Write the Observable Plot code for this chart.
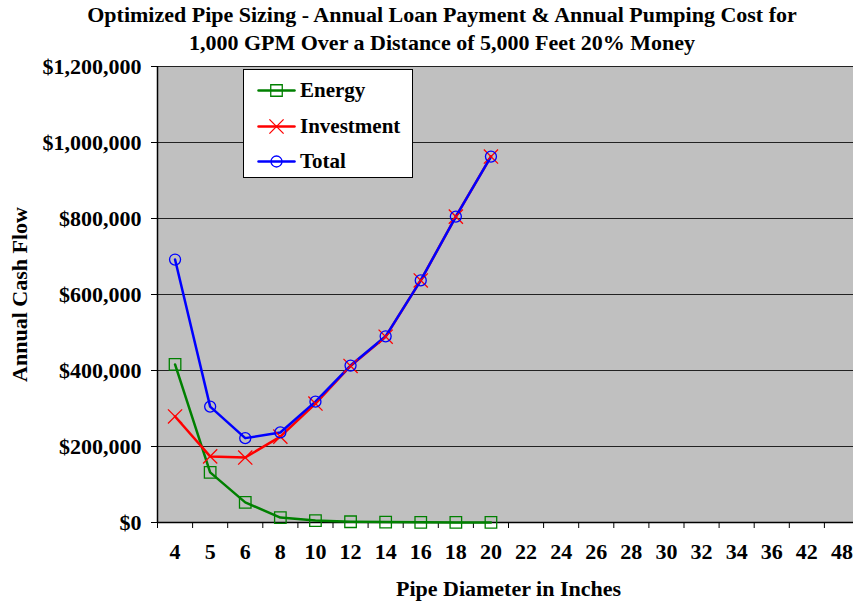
<!DOCTYPE html>
<html><head><meta charset="utf-8">
<script src="https://cdn.jsdelivr.net/npm/d3@7"></script>
<script src="https://cdn.jsdelivr.net/npm/@observablehq/plot@0.6"></script>
<style>
html,body{margin:0;background:#fff;overflow:hidden;}
#wrap{position:relative;width:853px;height:606px;overflow:hidden;font-family:"Liberation Serif","Times New Roman",serif;font-weight:bold;color:#000;}
#chart svg{max-width:none !important;}
#title{position:absolute;left:0;top:1px;width:884px;text-align:center;font-size:22px;line-height:28px;}
#legend{position:absolute;left:243px;top:69px;width:168px;height:107px;border:1.5px solid #000;background:#fff;font-size:21px;}
#legend .row{position:absolute;left:14px;height:24px;display:flex;align-items:center;}
#legend .row span{margin-left:6px;}
</style></head>
<body>
<div id="wrap">
<div id="chart"></div>
<div id="title">Optimized Pipe Sizing - Annual Loan Payment &amp; Annual Pumping Cost for<br>1,000 GPM Over a Distance of 5,000 Feet 20% Money</div>
<div id="legend"></div>
</div>
<script>
const diameters = [4,5,6,8,10,12,14,16,18,20,22,24,26,28,30,32,34,36,42,48];
const energy = [416000,132000,53000,13000,5000,2000,1000,500,300,200];
const investment = [279000,174000,171000,226000,313000,412000,489000,637000,805000,963000];
const total = [692000,305000,222000,237000,318000,413000,490000,637000,805000,963000];
const yTicks = [0,200000,400000,600000,800000,1000000,1200000];
const seriesNames = ["Energy","Investment","Total"];
const seriesColors = ["#008000","#ff0000","#0000ff"];
const seriesSymbols = ["square","times","circle"];

const seriesValues = [energy, investment, total];
const rows = seriesNames.flatMap((name, s) => seriesValues[s].map((v, i) => ({series: name, i, d: diameters[i], v})));
const idx = d3.range(diameters.length);
const bounds = d3.range(diameters.length + 1).map(i => i - 0.5);
const font = '"Liberation Serif","Times New Roman",serif';

const marks = [
  Plot.frame({fill: "#c0c0c0"}),
  Plot.gridY(yTicks, {stroke: "#222", strokeOpacity: 1, strokeWidth: 1}),
  Plot.axisY(yTicks, {tickFormat: d => "$" + d3.format(",")(d), tickSize: 6, tickPadding: 10, fontSize: 22, fontWeight: "bold", fontFamily: font, label: "Annual Cash Flow", labelAnchor: "center", labelOffset: 146, labelArrow: "none"}),
  Plot.axisX(idx, {tickFormat: i => diameters[i], tickSize: 0, tickPadding: 21, fontSize: 22, fontWeight: "bold", fontFamily: font, label: "Pipe Diameter in Inches", labelAnchor: "center", labelOffset: 73, labelArrow: "none"}),
  Plot.axisX(bounds, {tickFormat: () => "", tickSize: 6, label: null}),
  Plot.ruleX([-0.5], {stroke: "#000", strokeWidth: 1.5}),
  Plot.ruleY([0], {stroke: "#000", strokeWidth: 1.5})
];
seriesNames.forEach((name, s) => {
  const data = rows.filter(r => r.series === name);
  marks.push(Plot.line(data, {x: "i", y: "v", stroke: seriesColors[s], strokeWidth: 2.5}));
});
seriesNames.forEach((name, s) => {
  const data = rows.filter(r => r.series === name);
  marks.push(Plot.dot(data, {x: "i", y: "v", stroke: seriesColors[s], symbol: seriesSymbols[s], r: s === 2 ? 5.5 : 6.5, strokeWidth: 1.3, fill: "none"}));
});

const chart = Plot.plot({
  width: 859, height: 606,
  marginTop: 66, marginBottom: 84, marginLeft: 157, marginRight: 0,
  style: {fontFamily: font, fontWeight: "bold", color: "#000", background: "#fff", overflow: "visible", maxWidth: "none"},
  x: {type: "linear", domain: [-0.5, diameters.length - 0.5]},
  y: {domain: [0, 1200000]},
  marks
});
document.getElementById("chart").appendChild(chart);

// legend
const legend = document.getElementById("legend");
const tops = [8, 44, 79];
seriesNames.forEach((name, s) => {
  const row = document.createElement("div");
  row.className = "row";
  row.style.top = tops[s] + "px";
  const sw = Plot.plot({
    width: 36, height: 20, margin: 0,
    x: {domain: [0, 1], axis: null}, y: {domain: [0, 1], axis: null},
    style: {background: "transparent", overflow: "visible"},
    marks: [
      Plot.line([[0, 0.5], [1, 0.5]], {stroke: seriesColors[s], strokeWidth: 2.5}),
      Plot.dot([[0.5, 0.5]], {stroke: seriesColors[s], symbol: seriesSymbols[s], r: s === 2 ? 5.5 : 6.5, strokeWidth: 1.3, fill: "none"})
    ]
  });
  row.appendChild(sw);
  const t = document.createElement("span");
  t.textContent = name;
  row.appendChild(t);
  legend.appendChild(row);
});
</script>
</body></html>
